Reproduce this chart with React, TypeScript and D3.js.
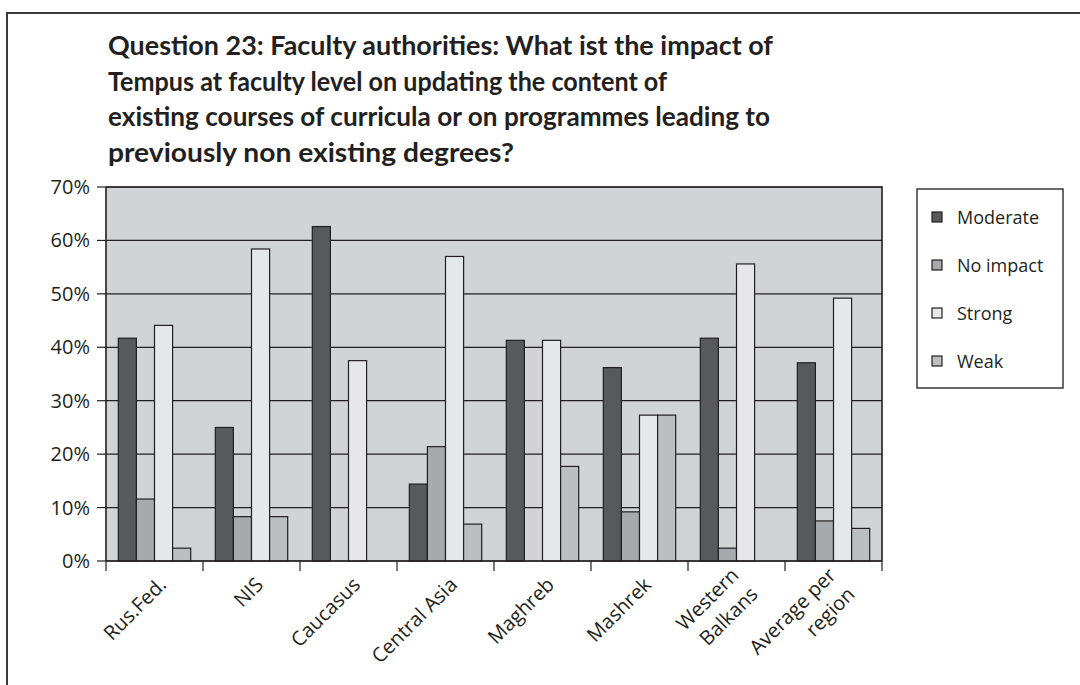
import React from 'react';
import * as d3 from 'd3';

// values, in percent
const categories = ['Rus.Fed.', 'NIS', 'Caucasus', 'Central Asia', 'Maghreb', 'Mashrek', 'Western Balkans', 'Average per region'];
const categoryLines = [['Rus.Fed.'], ['NIS'], ['Caucasus'], ['Central Asia'], ['Maghreb'], ['Mashrek'], ['Western', 'Balkans'], ['Average per', 'region']];
const seriesNames = ['Moderate', 'No impact', 'Strong', 'Weak'];
const moderate = [41.7, 25.0, 62.6, 14.4, 41.3, 36.2, 41.7, 37.1];
const noImpact = [11.6, 8.3, 0, 21.4, 0, 9.2, 2.4, 7.5];
const strong = [44.1, 58.4, 37.5, 57.0, 41.3, 27.3, 55.6, 49.2];
const weak = [2.4, 8.3, 0, 6.9, 17.7, 27.3, 0, 6.1];
const yTicks = [0, 10, 20, 30, 40, 50, 60, 70];
const titleLines = [
  'Question 23: Faculty authorities: What ist the impact of',
  'Tempus at faculty level on updating the content of',
  'existing courses of curricula or on programmes leading to',
  'previously non existing degrees?',
];

const seriesValues = [moderate, noImpact, strong, weak];
const colors = ['#58595b', '#a7a9ac', '#e6e7e8', '#bcbec0'];
const ink = '#231f20';
const titleFont = 'Lato, "Open Sans", sans-serif';
const font = '"Open Sans", Lato, sans-serif';

const App = () => {
  const left = 106;
  const right = 882;
  const top = 187;
  const bottom = 561;

  const x = d3.scaleBand<string>().domain(categories).range([left, right]).paddingInner(0).paddingOuter(0);
  const inner = d3.scaleBand<string>().domain(seriesNames).range([0, x.bandwidth()]).paddingInner(0).paddingOuter(0.68);
  const y = d3.scaleLinear().domain([0, 70]).range([bottom, top]);

  // the title font is narrower than anything installed, so each line is fitted to its width
  const titleWidths = [665, 559, 662, 406];
  const lineGap = 27;

  return (
    <div style={{ position: 'absolute', left: 0, top: 0 }}>
      <svg width={1080} height={685} style={{ display: 'block', background: '#fff' }}>
        {/* outer frame, open to the right and bottom */}
        <path d="M7,700 L7,13 L1090,13" fill="none" stroke="#3a3a3a" strokeWidth={2} />

        {titleLines.map((t, i) => (
          <text key={i} x={108} y={55 + i * 35.5} fontFamily={titleFont} fontWeight="bold" fontSize={27}
            fill={ink} textLength={titleWidths[i]} lengthAdjust="spacingAndGlyphs">{t}</text>
        ))}

        <rect x={left} y={top} width={right - left} height={bottom - top} fill="#d1d3d4" />

        {yTicks.map((t) => (
          <g key={t}>
            <line x1={left} x2={right} y1={y(t)} y2={y(t)} stroke={ink} strokeWidth={1.2} />
            <line x1={97} x2={left} y1={y(t)} y2={y(t)} stroke={ink} strokeWidth={1.2} />
            <text x={90} y={y(t) + 7} textAnchor="end" fontFamily={font} fontSize={20} fill={ink}>{t}%</text>
          </g>
        ))}

        {categories.map((c, ci) => (
          <g key={c} transform={`translate(${x(c)},0)`}>
            {seriesNames.map((s, si) => {
              const v = seriesValues[si][ci];
              if (!v) return null;
              return (
                <rect key={s} x={inner(s)} y={y(v)} width={inner.bandwidth()} height={y(0) - y(v)}
                  fill={colors[si]} stroke={ink} strokeWidth={1.2} />
              );
            })}
          </g>
        ))}

        {/* plot frame */}
        <path d={`M${left},${top} L${right},${top} L${right},${bottom}`} fill="none" stroke={ink} strokeWidth={1.6} />
        <line x1={left} x2={left} y1={top} y2={bottom} stroke={ink} strokeWidth={1.6} />
        <line x1={left} x2={right} y1={bottom} y2={bottom} stroke={ink} strokeWidth={1.6} />

        {[...categories.map((c) => x(c) as number), right].map((tx, i) => (
          <line key={i} x1={tx} x2={tx} y1={bottom} y2={bottom + 10} stroke={ink} strokeWidth={1.2} />
        ))}

        {categories.map((c, ci) => {
          const lines = categoryLines[ci];
          // multi-line labels are shifted up-left by half the extra height, perpendicular to the baseline
          const shift = ((lines.length - 1) * lineGap) / 2 / Math.SQRT2;
          const cx = (x(c) as number) + x.bandwidth() / 2 + 13 - shift;
          const cy = bottom + 25 - shift;
          return (
            <text key={c} transform={`translate(${cx},${cy}) rotate(-45)`} textAnchor="end"
              fontFamily={font} fontSize={20} fill={ink}>
              {lines.map((l, li) => (
                <tspan key={li} x={0} dy={li === 0 ? 0 : lineGap}>{l}</tspan>
              ))}
            </text>
          );
        })}

        {/* legend */}
        <rect x={917} y={189} width={146} height={199} fill="#fff" stroke="#3a3a3a" strokeWidth={1.5} />
        {seriesNames.map((s, i) => (
          <g key={s} transform={`translate(932,${217 + i * 48})`}>
            <rect x={0} y={-5} width={10} height={10} fill={colors[i]} stroke={ink} strokeWidth={1.2} />
            <text x={25} y={6.5} fontFamily={font} fontSize={18} fill={ink}>{s}</text>
          </g>
        ))}
      </svg>
    </div>
  );
};

export default App;
